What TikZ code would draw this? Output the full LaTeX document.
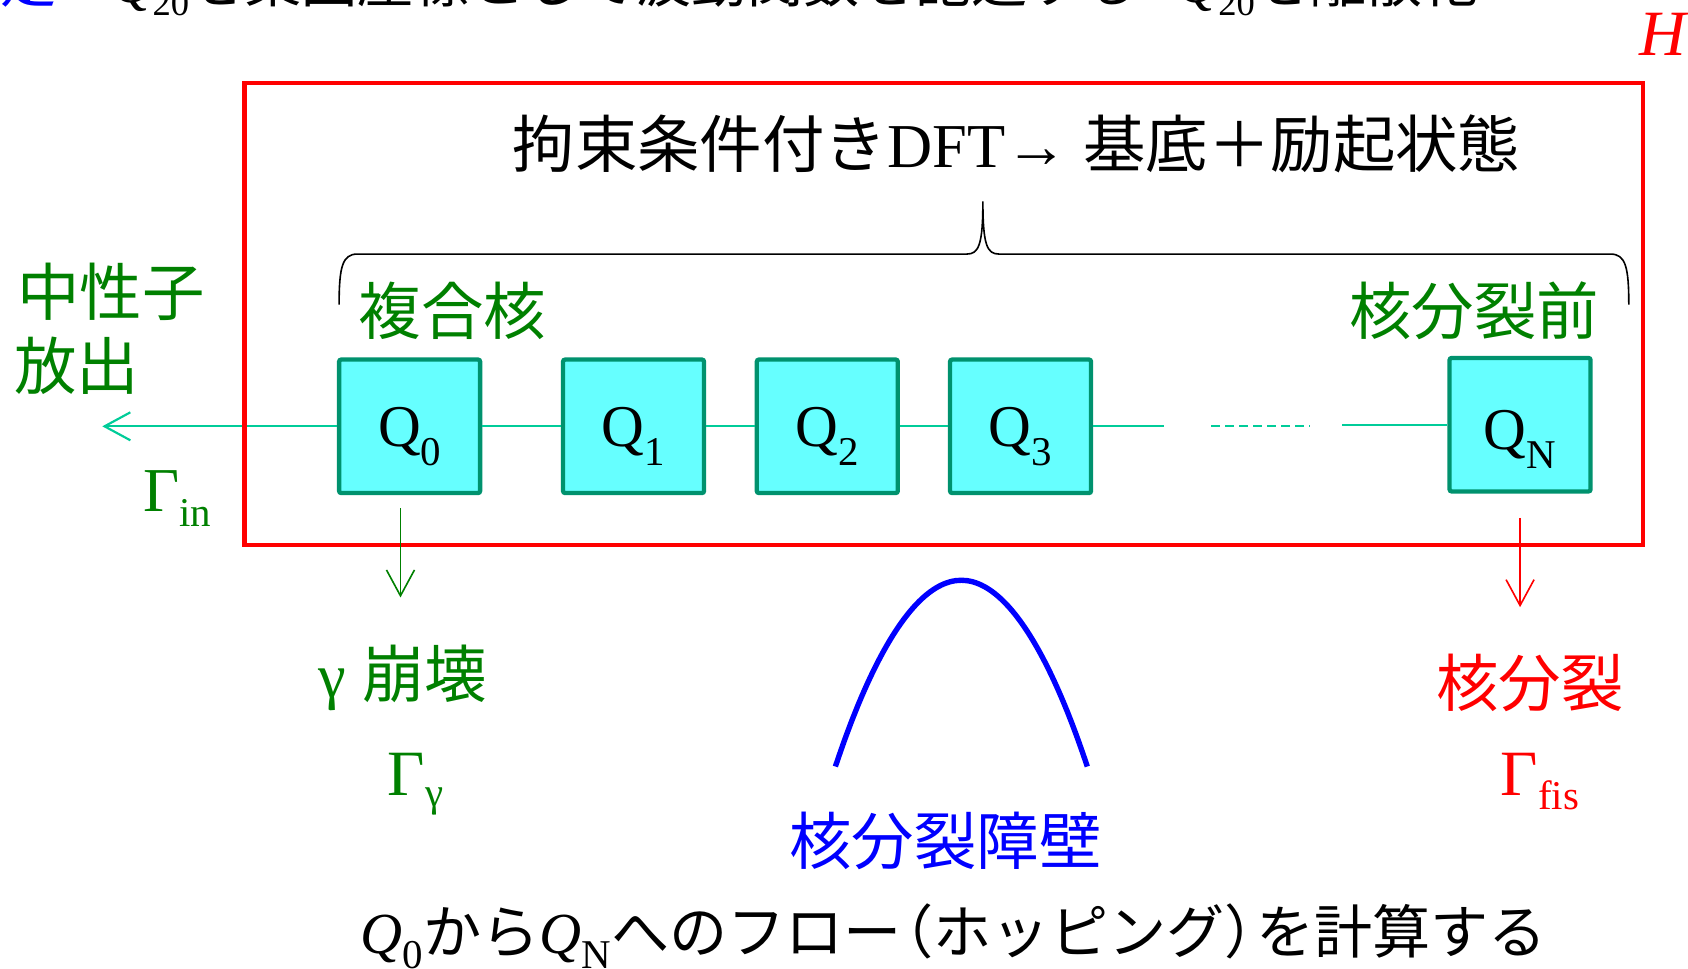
\documentclass[tikz,border=0pt]{standalone}
\usepackage{fontspec}
\setmainfont{Liberation Serif}
\newfontfamily\jp{Noto Sans CJK JP}
\usetikzlibrary{arrows.meta}
\definecolor{tgreen}{RGB}{0,128,0}
\definecolor{boxfill}{RGB}{102,255,255}
\definecolor{boxdraw}{RGB}{0,146,110}
\definecolor{linkc}{RGB}{0,204,153}
\newcommand\fs[1]{\fontsize{#1}{#1}\selectfont}
\newcommand\qlab[1]{Q\raisebox{-17pt}{\fs{38}#1}}
\begin{document}
\begin{tikzpicture}[x=1pt,y=-1pt,
  qbox/.style={draw=boxdraw, fill=boxfill, line width=4pt, minimum width=131pt,
    minimum height=124pt, rounded corners=2pt, inner sep=0pt, font=\fs{55},
    text height=48pt, text depth=10pt},
  linkline/.style={draw=linkc, line width=2pt},
  barb/.style={-{Straight Barb[length=24pt,width=26pt]}},
  lbl/.style={inner sep=0pt, anchor=base west},
  gtext/.style={lbl, text=tgreen, font=\jp\fs{58}},
]
\useasboundingbox (0,0) rectangle (1568,900);
\clip (0,0) rectangle (1568,900);

% top (cut-off) line
\node[lbl, text=blue, font=\jp\fs{52}] (topa) at (-52,2) {仮定};
\node[lbl, font=\fs{52}] (topb) at (104,2) {\itshape Q\upshape\raisebox{-12pt}{\fs{34}20}{\jp を集団座標として波動関数を記述する}};
\node[lbl, font=\fs{52}] (topc) at (1094,2) {\itshape Q\upshape\raisebox{-12pt}{\fs{34}20}{\jp を離散化}};

% H label
\node[inner sep=0pt, anchor=base, text=red, font=\itshape\fs{60}] (hlab) at (1545,52) {H};

% title
\node[lbl, font=\fs{58}] (title) at (476,156) {{\jp 拘束条件付き}DFT→ {\jp 基底＋励起状態}};

% brace
\draw[black, line width=1.5pt] (315,283) .. controls (315,248) and (318,236) .. (332,236)
  -- (898,236) .. controls (909,236) and (913,228) .. (913,187)
  .. controls (913,228) and (917,236) .. (928,236)
  -- (1496,236) .. controls (1510,236) and (1513,248) .. (1513,283);

% labels above boxes
\node[gtext] (fukugo) at (333,311) {複合核};
\node[gtext] (mae) at (1253,311) {核分裂前};
\node[gtext] (chusei) at (16,293) {中性子};
\node[gtext] (hoshutsu) at (13,362) {放出};

% boxes
\node[qbox] (q0) at (380.5,396) {\qlab{0}};
\node[qbox] (q1) at (588.5,396) {\qlab{1}};
\node[qbox] (q2) at (768.5,396) {\qlab{2}};
\node[qbox] (q3) at (948,396) {\qlab{3}};
\node[qbox, text height=56pt, text depth=9pt] (qn) at (1412,394.5) {\qlab{N}};

% connectors
\coordinate (c1) at (1081,396);
\coordinate (d1) at (1125,396);
\coordinate (d2) at (1217,396);
\coordinate (c2) at (1247,394.5);
\coordinate (nout) at (95,396);
\draw[linkline] (q0.east) -- (q1.west);
\draw[linkline] (q1.east) -- (q2.west);
\draw[linkline] (q2.east) -- (q3.west);
\draw[linkline] (q3.east) -- (c1);
\draw[linkline, dash pattern=on 8pt off 5pt] (d1) -- (d2);
\draw[linkline] (c2) -- (qn.west);
\draw[linkline, barb] (q0.west) -- (nout);

% red frame
\node[draw=red, line width=4pt, minimum width=1299pt, minimum height=429pt, inner sep=0pt] (hbox) at (876.5,291.5) {};

% decay arrows
\coordinate (gs) at (372,472);
\coordinate (ge) at (372,555);
\coordinate (fs1) at (1412,481);
\coordinate (fe) at (1412,564);
\draw[tgreen, line width=1.5pt, barb] (gs) -- (ge);
\draw[red, line width=1.5pt, barb] (fs1) -- (fe);

% gamma labels
\node[lbl, text=tgreen, font=\fs{58}] (gin) at (133,475) {Γ\raisebox{-14pt}{\fs{38}in}};
\node[lbl, text=tgreen, font=\fs{58}] (gdec) at (296,648) {γ {\jp 崩壊}};
\node[lbl, text=tgreen, font=\fs{60}] (gg) at (360,739) {Γ\raisebox{-10pt}{\fs{38}γ}};

% fission labels
\node[lbl, text=red, font=\jp\fs{58}] (fis) at (1334,656) {核分裂};
\node[lbl, text=red, font=\fs{60}] (gf) at (1394,739) {Γ\raisebox{-13pt}{\fs{38}fis}};

% barrier
\draw[blue, line width=5pt] (776,712) parabola bend (893,539) (1010,712);
\node[lbl, text=blue, font=\jp\fs{58}] (barrier) at (733,803) {核分裂障壁};

% bottom line
\node[lbl, font=\fs{54}] (bottom) at (335,886) {\itshape Q\upshape\raisebox{-14pt}{\fs{38}0}{\jp から}\itshape Q\upshape\raisebox{-14pt}{\fs{38}N}{\jp へのフロー\hspace{-0.45em}（ホッピング）\hspace{-0.45em}を計算する}};
\end{tikzpicture}
\end{document}
